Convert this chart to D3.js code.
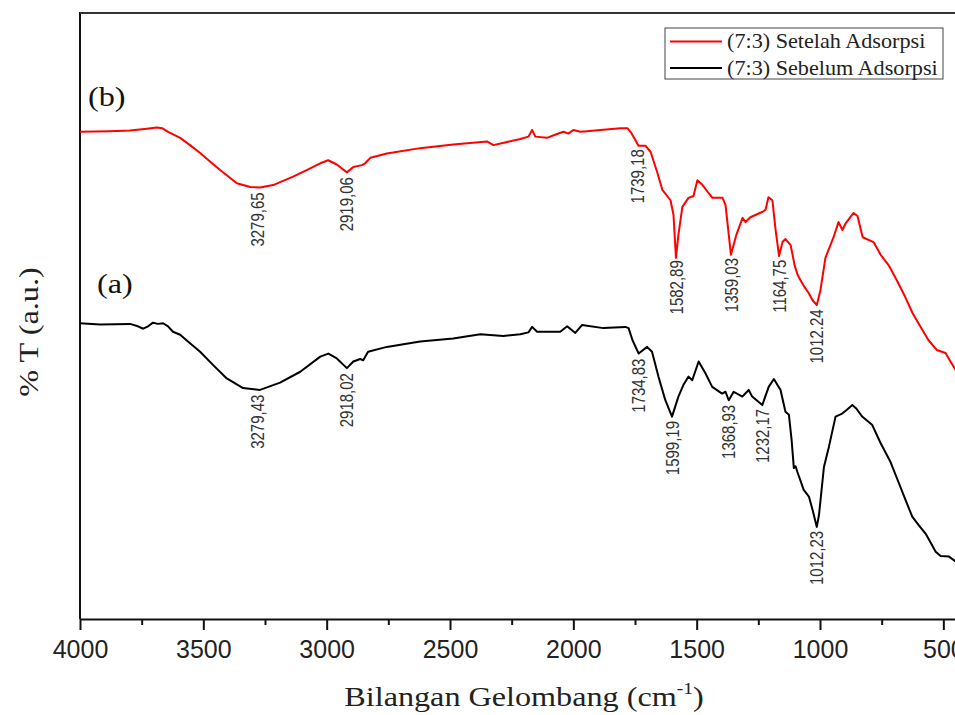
<!DOCTYPE html>
<html>
<head>
<meta charset="utf-8">
<script src="https://cdn.jsdelivr.net/npm/d3@7"></script>
<style>
  body { margin: 0; background: #fff; }
  .tick text { font-family: "Liberation Sans", Arial, sans-serif; }
</style>
</head>
<body>
<div id="chart-container"></div>
<script>
// 数据：波数 (cm-1) 与透射率 (a.u.)
const redWave = [4000,3878,3797,3729,3689,3667,3643,3594,3554,3513,3473,3432,3364,3310,3270,3217,3136,3079,3026,2994,
  2959,2918,2892,2857,2844,2823,2756,2621,2487,2350,2324,2215,2182,2167,2154,2107,2069,2040,2020,2000,
  1971,1944,1890,1809,1781,1765,1748,1736,1708,1687,1659,1639,1606,1594,1584,1574,1558,1533,1513,1497,
  1476,1452,1436,1395,1383,1361,1339,1314,1302,1282,1233,1221,1209,1193,1180,1166,1152,1140,1119,1103,
  1091,1079,1063,1046,1030,1013,998,978,945,925,909,896,864,848,827,783,754,722,685,653,
  625,592,560,527,491,470,450,400];
const redT = [80.4,80.5,80.6,80.9,81.1,81.0,80.4,79.4,78.2,76.9,75.5,74.1,71.9,71.3,71.2,71.6,73.0,74.1,75.2,75.7,
  75.0,73.7,74.6,74.9,75.2,76.1,76.8,77.7,78.3,78.8,78.2,79.2,79.6,80.7,79.6,79.4,80.0,80.4,80.1,80.7,
  80.4,80.5,80.7,81.0,81.0,80.2,79.0,78.1,78.1,77.1,73.6,70.8,69.1,66.7,59.6,63.4,68.0,69.5,69.8,72.4,
  71.6,70.3,69.5,69.5,68.3,60.1,63.4,66.2,65.5,66.3,67.2,67.5,69.6,69.1,64.2,59.9,62.2,62.7,61.7,58.4,
  56.8,55.9,54.8,53.8,52.6,51.8,54.3,59.6,63.0,65.5,64.2,65.3,67.0,66.5,63.0,62.2,60.1,58.4,55.6,53.0,
  50.5,48.2,46.0,44.4,43.9,42.4,41.1,40.3];

const blackWave = [4000,3919,3797,3765,3744,3724,3704,3684,3663,3643,3623,3594,3554,3513,3460,3405,3339,3270,3189,3107,
  3026,2993,2959,2918,2892,2864,2852,2832,2756,2621,2487,2377,2284,2215,2182,2167,2147,2053,2025,1992,
  1965,1878,1789,1776,1760,1735,1701,1681,1655,1627,1600,1574,1554,1533,1518,1492,1464,1437,1397,1383,
  1370,1350,1315,1289,1275,1234,1208,1187,1160,1140,1126,1115,1106,1099,1092,1066,1045,1030,1013,1004,
  984,964,937,910,892,869,852,829,788,754,714,680,653,626,600,572,531,511,477,450,400];
const blackT = [48.8,48.6,48.7,48.3,47.9,48.3,48.9,48.7,48.8,48.3,47.4,46.9,45.5,44.1,41.9,39.7,38.1,37.8,39.0,40.8,
  43.3,43.8,43.0,41.4,42.5,42.9,42.7,44.1,44.9,45.8,46.3,47.0,46.7,47.0,47.3,48.2,47.4,47.4,48.3,47.2,
  48.5,48.0,48.2,48.0,46.0,43.8,44.9,44.1,40.0,36.1,33.4,36.7,38.6,40.0,39.4,42.5,40.5,38.3,37.2,37.5,
  36.1,37.5,36.7,37.8,36.7,35.3,38.3,39.6,37.8,34.2,33.7,29.5,24.9,25.2,24.3,21.3,20.2,18.0,15.2,17.2,
  25.1,28.4,33.4,33.9,34.5,35.3,34.7,33.4,32.0,29.0,25.9,22.4,19.6,16.9,15.5,14.1,11.1,10.4,10.3,9.5,8.9];

// 峰位标注
const redPeaks = [3279.65, 2919.06, 1739.18, 1582.89, 1359.03, 1164.75, 1012.24];
const redPeakLabels = ["3279,65", "2919,06", "1739,18", "1582,89", "1359,03", "1164,75", "1012.24"];
const blackPeaks = [3279.43, 2918.02, 1734.83, 1599.19, 1368.93, 1232.17, 1012.23];
const blackPeakLabels = ["3279,43", "2918,02", "1734,83", "1599,19", "1368,93", "1232,17", "1012,23"];

// 刻度
const xTicks = [4000, 3500, 3000, 2500, 2000, 1500, 1000, 500];
const xMinorTicks = [3750, 3250, 2750, 2250, 1750, 1250, 750];

const legendLabels = ["(7:3) Setelah Adsorpsi", "(7:3) Sebelum Adsorpsi"];
const legendColors = ["#ff0000", "#000000"];

document.addEventListener('DOMContentLoaded', function() {
  // 1. 尺寸和边距（右侧超出窗口，与原图一样被裁掉）
  const margin = { top: 13, left: 80 };
  const width = 888;
  const height = 606;
  const serif = "'Liberation Serif', 'Times New Roman', serif";

  const root = d3.select("#chart-container")
    .append("svg")
    .attr("width", 955)
    .attr("height", 715);

  const svg = root.append("g")
    .attr("transform", `translate(${margin.left}, ${margin.top})`);

  // 2. 比例尺
  const x = d3.scaleLinear().domain([4000, 400]).range([0, width]);
  const y = d3.scaleLinear().domain([0, 100]).range([height, 0]);

  const red = d3.zip(redWave, redT);
  const black = d3.zip(blackWave, blackT);

  // 3. 坐标轴
  const xAxis = svg.append("g")
    .attr("transform", `translate(0, ${height})`)
    .call(d3.axisBottom(x).tickValues(xTicks).tickSize(11).tickSizeOuter(0).tickPadding(10).tickFormat(d3.format("d")));
  xAxis.selectAll("text").attr("font-size", 25).attr("fill", "#222");
  xAxis.selectAll("line").attr("stroke-width", 2).attr("stroke", "#111");
  xAxis.select(".domain").attr("stroke-width", 2).attr("stroke", "#111");

  const xMinor = svg.append("g")
    .attr("transform", `translate(0, ${height})`)
    .call(d3.axisBottom(x).tickValues(xMinorTicks).tickSize(6).tickSizeOuter(0).tickFormat(""));
  xMinor.select(".domain").remove();
  xMinor.selectAll("line").attr("stroke-width", 2).attr("stroke", "#111");

  // 左轴和上边框
  svg.append("line").attr("x1", 0).attr("x2", 0).attr("y1", -1).attr("y2", height)
    .attr("stroke", "#111").attr("stroke-width", 2);
  svg.append("line").attr("x1", 0).attr("x2", width).attr("y1", 0).attr("y2", 0)
    .attr("stroke", "#333").attr("stroke-width", 2);

  // 4. 光谱曲线
  const line = d3.line().x(d => x(d[0])).y(d => y(d[1]));

  svg.append("path").datum(black)
    .attr("fill", "none").attr("stroke", "#000").attr("stroke-width", 2)
    .attr("stroke-linejoin", "round").attr("d", line);
  svg.append("path").datum(red)
    .attr("fill", "none").attr("stroke", "#ff0000").attr("stroke-width", 2)
    .attr("stroke-linejoin", "round").attr("d", line);

  // 5. 峰位标注（竖排文字，放在曲线下方）
  function valueAt(series, w) {
    for (let i = 0; i < series.length - 1; i++) {
      const a = series[i], b = series[i + 1];
      if (w <= a[0] && w >= b[0]) {
        const t = (a[0] - w) / (a[0] - b[0]);
        return a[1] + t * (b[1] - a[1]);
      }
    }
    return series[series.length - 1][1];
  }

  function drawPeaks(series, peaks, labels) {
    svg.selectAll(null)
      .data(peaks)
      .enter()
      .append("text")
      .attr("transform", d => `translate(${x(d)}, ${y(valueAt(series, d)) + 5}) rotate(-90) scale(1, 1.2)`)
      .attr("text-anchor", "end")
      .attr("dy", "0.35em")
      .attr("font-family", "'Liberation Sans', Arial, sans-serif")
      .attr("font-size", 15)
      .attr("fill", "#333")
      .text((d, i) => labels[i]);
  }
  drawPeaks(red, redPeaks, redPeakLabels);
  drawPeaks(black, blackPeaks, blackPeakLabels);

  // 6. 曲线名称 (a) (b)
  svg.append("text").attr("transform", "translate(8, 93) scale(1.15, 1)")
    .attr("font-family", serif).attr("font-size", 28)
    .attr("fill", "#111").text("(b)");
  svg.append("text").attr("transform", "translate(17, 280) scale(1.15, 1)")
    .attr("font-family", serif).attr("font-size", 28)
    .attr("fill", "#111").text("(a)");

  // 7. 轴标题
  const xTitle = root.append("text")
    .attr("transform", "translate(524, 706) scale(1.15, 1)")
    .attr("text-anchor", "middle")
    .attr("font-family", serif)
    .attr("font-size", 28).attr("fill", "#222");
  xTitle.append("tspan").text("Bilangan Gelombang (cm");
  xTitle.append("tspan").attr("font-size", 17).attr("dy", -12).text("-1");
  xTitle.append("tspan").attr("dy", 12).text(")");

  root.append("text")
    .attr("transform", "translate(38, 332) rotate(-90) scale(1.15, 1)")
    .attr("text-anchor", "middle")
    .attr("font-family", serif)
    .attr("font-size", 28).attr("fill", "#222")
    .text("% T (a.u.)");

  // 8. 图例
  const legend = root.append("g").attr("transform", "translate(665, 28)");
  legend.append("rect").attr("width", 278).attr("height", 51)
    .attr("fill", "#fff").attr("stroke", "#444").attr("stroke-width", 1);
  legendLabels.forEach(function(label, i) {
    const row = legend.append("g").attr("transform", `translate(0, ${13.5 + i * 26.5})`);
    row.append("line").attr("x1", 5).attr("x2", 57).attr("y1", 0).attr("y2", 0)
      .attr("stroke", legendColors[i]).attr("stroke-width", 2);
    row.append("text").attr("transform", "translate(62, 6.5) scale(1.11, 1)")
      .attr("font-family", serif)
      .attr("font-size", 20).attr("fill", "#222")
      .text(label);
  });
});
</script>
</body>
</html>
